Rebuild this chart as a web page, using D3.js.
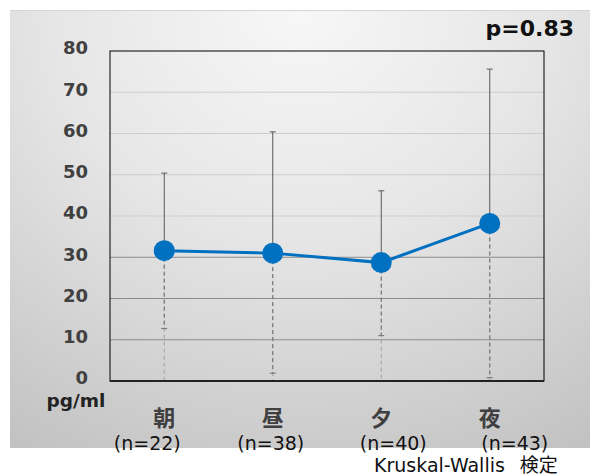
<!DOCTYPE html>
<html>
<head>
<meta charset="utf-8">
<script src="https://cdn.jsdelivr.net/npm/d3@7"></script>
<style>
  body { margin: 0; background: #fff; }
  svg { display: block; }
</style>
</head>
<body>
<div id="chart"></div>
<script>
// chart data
let categories = ["朝", "昼", "夕", "夜"];
let counts = ["(n=22)", "(n=38)", "(n=40)", "(n=43)"];
let means = [31.6, 31.0, 28.7, 38.2];
let upper = [50.4, 60.4, 46.1, 75.6];
let lower = [12.7, 1.9, 11.0, 0.8];
let yTicks = [0, 10, 20, 30, 40, 50, 60, 70, 80];

// n labels are hand placed in the original, offsets from the category centre
let countOffsets = [-17, -2, 12, 25];

let width = 590;
let height = 476;
let margin = ({top: 51, right: 46, bottom: 95, left: 110});
let fontLatin = "'DejaVu Sans', 'Noto Sans CJK JP', sans-serif";

let svg = d3.select("#chart")
  .append("svg")
  .attr("width", width).attr("height", height);

// background panel gradient
let defs = svg.append("defs");
let grad = defs.append("radialGradient")
  .attr("id", "bg")
  .attr("cx", "0.5").attr("cy", "0")
  .attr("r", "1.05")
  .attr("gradientTransform", "translate(0.5 0) scale(0.9 1.1) translate(-0.5 0)");
grad.append("stop").attr("offset", "0").attr("stop-color", "#f7f7f7");
grad.append("stop").attr("offset", "0.45").attr("stop-color", "#e6e6e6");
grad.append("stop").attr("offset", "1").attr("stop-color", "#c2c2c2");

svg.append("rect")
  .attr("x", 10).attr("y", 10)
  .attr("width", 580).attr("height", 438)
  .attr("fill", "url(#bg)");
svg.append("line")
  .attr("x1", 10).attr("x2", 590)
  .attr("y1", 10.5).attr("y2", 10.5)
  .attr("stroke", "#d4d4d4");

let xScale = d3.scaleBand()
  .domain(categories)
  .range([margin.left, width - margin.right]);

let yScale = d3.scaleLinear()
  .domain([0, 80])
  .range([height - margin.bottom, margin.top]);

let cx = c => xScale(c) + xScale.bandwidth() / 2;

// gridlines
svg.append("g")
  .selectAll("line")
  .data(yTicks.filter(t => t > 0 && t < 80))
  .enter()
  .append("line")
  .attr("x1", margin.left).attr("x2", width - margin.right)
  .attr("y1", d => yScale(d)).attr("y2", d => yScale(d))
  .attr("stroke", d => d <= 30 ? "#8c8c8c" : "#cdcdcd")
  .attr("stroke-width", 1);

// y tick labels
svg.append("g")
  .selectAll("text")
  .data(yTicks)
  .enter()
  .append("text")
  .attr("x", 88)
  .attr("y", d => yScale(d) - 3)
  .attr("dy", "0.35em")
  .attr("text-anchor", "end")
  .attr("font-family", fontLatin)
  .attr("font-weight", "bold")
  .attr("font-size", 18)
  .attr("fill", "#404040")
  .text(d => d);

// drop lines (dashed) from each mean down to the axis
svg.append("g")
  .selectAll("line")
  .data(categories)
  .enter()
  .append("line")
  .attr("x1", cx).attr("x2", cx)
  .attr("y1", (d, i) => yScale(means[i]))
  .attr("y2", yScale(0))
  .attr("stroke", "#a0a0a0")
  .attr("stroke-width", 1)
  .attr("stroke-dasharray", "4,3");

// lower whisker, dashed darker
svg.append("g")
  .selectAll("line")
  .data(categories)
  .enter()
  .append("line")
  .attr("x1", cx).attr("x2", cx)
  .attr("y1", (d, i) => yScale(means[i]))
  .attr("y2", (d, i) => yScale(lower[i]))
  .attr("stroke", "#707070")
  .attr("stroke-width", 1)
  .attr("stroke-dasharray", "4,3");

// lower caps
svg.append("g")
  .selectAll("line")
  .data(categories)
  .enter()
  .append("line")
  .attr("x1", d => cx(d) - 3).attr("x2", d => cx(d) + 3)
  .attr("y1", (d, i) => yScale(lower[i]))
  .attr("y2", (d, i) => yScale(lower[i]))
  .attr("stroke", "#707070")
  .attr("stroke-width", 1);

// upper whisker, solid
svg.append("g")
  .selectAll("line")
  .data(categories)
  .enter()
  .append("line")
  .attr("x1", cx).attr("x2", cx)
  .attr("y1", (d, i) => yScale(means[i]))
  .attr("y2", (d, i) => yScale(upper[i]))
  .attr("stroke", "#595959")
  .attr("stroke-width", 1);

svg.append("g")
  .selectAll("line")
  .data(categories)
  .enter()
  .append("line")
  .attr("x1", d => cx(d) - 3).attr("x2", d => cx(d) + 3)
  .attr("y1", (d, i) => yScale(upper[i]))
  .attr("y2", (d, i) => yScale(upper[i]))
  .attr("stroke", "#595959")
  .attr("stroke-width", 1);

// plot area frame
let plotW = width - margin.right - margin.left;
svg.append("rect")
  .attr("x", margin.left).attr("y", margin.top)
  .attr("width", plotW)
  .attr("height", yScale(0) - margin.top)
  .attr("fill", "none")
  .attr("stroke", "#000")
  .attr("stroke-width", 1);
svg.append("line")
  .attr("x1", margin.left).attr("x2", width - margin.right)
  .attr("y1", yScale(0)).attr("y2", yScale(0))
  .attr("stroke", "#222")
  .attr("stroke-width", 2);

// mean line and markers
let line = d3.line()
  .x(d => cx(d.c))
  .y(d => yScale(d.v));
let pts = categories.map((c, i) => ({c: c, v: means[i]}));

svg.append("path")
  .datum(pts)
  .attr("d", line)
  .attr("fill", "none")
  .attr("stroke", "#0070c0")
  .attr("stroke-width", 3);

svg.append("g")
  .selectAll("circle")
  .data(pts)
  .enter()
  .append("circle")
  .attr("cx", d => cx(d.c))
  .attr("cy", d => yScale(d.v))
  .attr("r", 10.5)
  .attr("fill", "#0070c0");

// category labels
svg.append("g")
  .selectAll("text")
  .data(categories)
  .enter()
  .append("text")
  .attr("x", cx)
  .attr("y", 426)
  .attr("text-anchor", "middle")
  .attr("font-family", "'Noto Sans CJK JP', sans-serif")
  .attr("font-weight", "bold")
  .attr("font-size", 22)
  .attr("fill", "#404040")
  .text(d => d);

svg.append("g")
  .selectAll("text")
  .data(categories)
  .enter()
  .append("text")
  .attr("x", (d, i) => cx(d) + countOffsets[i])
  .attr("y", 449.5)
  .attr("text-anchor", "middle")
  .attr("font-family", fontLatin)
  .attr("font-size", 19)
  .attr("fill", "#111")
  .text((d, i) => counts[i]);

// unit label
svg.append("text")
  .attr("x", 76).attr("y", 407)
  .attr("text-anchor", "middle")
  .attr("font-family", fontLatin)
  .attr("font-weight", "bold")
  .attr("font-size", 18.5)
  .attr("fill", "#222")
  .text("pg/ml");

// p value
svg.append("text")
  .attr("x", 574).attr("y", 36)
  .attr("text-anchor", "end")
  .attr("font-family", fontLatin)
  .attr("font-weight", "bold")
  .attr("font-size", 22)
  .attr("fill", "#111")
  .text("p=0.83");

// test name
let note = svg.append("text")
  .attr("x", 374).attr("y", 471.5)
  .attr("font-family", fontLatin)
  .attr("font-size", 19)
  .attr("fill", "#111");
note.append("tspan").text("Kruskal-Wallis");
note.append("tspan")
  .attr("dx", 15)
  .text("検定");
</script>
</body>
</html>
